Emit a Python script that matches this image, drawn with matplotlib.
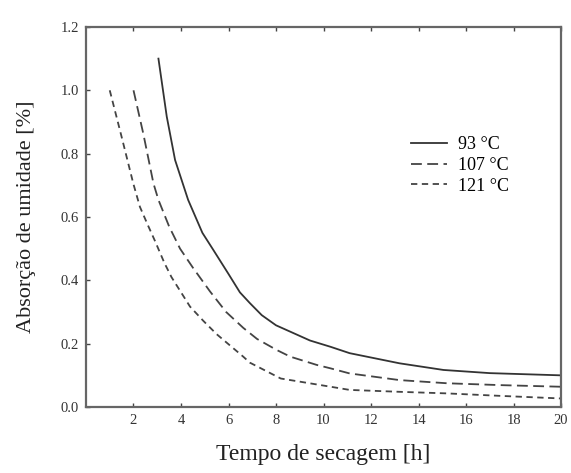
import numpy as np
import matplotlib
matplotlib.use("Agg")
import matplotlib.pyplot as plt

plt.rcParams['font.family'] = ['Liberation Serif', 'DejaVu Serif']

# values
t93 = [3.05, 3.4, 3.75, 4.3, 4.9, 5.36, 6.0, 6.48, 6.9, 7.4, 8.0, 9.43, 10.3, 11.1, 13.2, 15.05, 17.0, 20.0]
a93 = [1.10, 0.917, 0.78, 0.654, 0.55, 0.496, 0.42, 0.362, 0.328, 0.29, 0.258, 0.21, 0.19, 0.17, 0.138, 0.117, 0.107, 0.10]

t107 = [2.0, 2.41, 2.84, 3.05, 3.5, 3.96, 4.5, 5.22, 5.9, 6.62, 7.2, 8.03, 8.6, 9.71, 10.3, 11.1, 13.2, 15.2, 17.5, 20.0]
a107 = [1.00, 0.864, 0.706, 0.654, 0.57, 0.50, 0.44, 0.365, 0.30, 0.25, 0.215, 0.18, 0.159, 0.133, 0.122, 0.106, 0.085, 0.075, 0.069, 0.064]

t121 = [1.0, 1.5, 1.99, 2.27, 2.6, 2.9, 3.3, 3.6, 4.38, 4.94, 5.5, 6.62, 6.9, 8.2, 10.3, 11.1, 13.2, 15.2, 17.5, 20.0]
a121 = [1.00, 0.853, 0.706, 0.632, 0.575, 0.525, 0.455, 0.41, 0.317, 0.272, 0.23, 0.159, 0.14, 0.09, 0.064, 0.054, 0.048, 0.043, 0.035, 0.027]

labels = ['93 °C', '107 °C', '121 °C']
xticks = [2, 4, 6, 8, 10, 12, 14, 16, 18, 20]
yticks = [0.0, 0.2, 0.4, 0.6, 0.8, 1.0, 1.2]

fig = plt.figure(figsize=(5.71, 4.73), dpi=100)
ax = fig.add_axes([0.1506, 0.1395, 0.832, 0.8035])

ax.plot(t93, a93, color='#333333', lw=1.3, ls='-', label=labels[0])
ax.plot(t107, a107, color='#444444', lw=1.3, ls=(0, (6, 3)), label=labels[1])
ax.plot(t121, a121, color='#444444', lw=1.3, ls=(0, (3.5, 2.5)), label=labels[2])

ax.set_xlim(0, 20)
ax.set_ylim(0, 1.2)
ax.set_xticks(xticks)
ax.set_yticks(yticks)
ax.set_yticklabels(['%.1f' % v for v in yticks])
ax.tick_params(direction='in', length=3, width=1, colors='#444444',
               labelcolor='#333333', labelsize=10.5, top=True)
ax.tick_params(axis='x', pad=5)
ax.tick_params(axis='y', pad=5)

for s in ax.spines.values():
    s.set_color('#666666')
    s.set_linewidth(1.6)

ax.set_xlabel('Tempo de secagem [h]', fontsize=17, color='#222222', labelpad=12)
ax.set_ylabel('Absorção de umidade [%]', fontsize=16, color='#222222', labelpad=18)

leg = ax.legend(loc='upper left', bbox_to_anchor=(0.65, 0.755), frameon=False,
                fontsize=13, handlelength=2.0, handletextpad=0.6, labelspacing=0.2)

fig.savefig('out.png', dpi=100)
